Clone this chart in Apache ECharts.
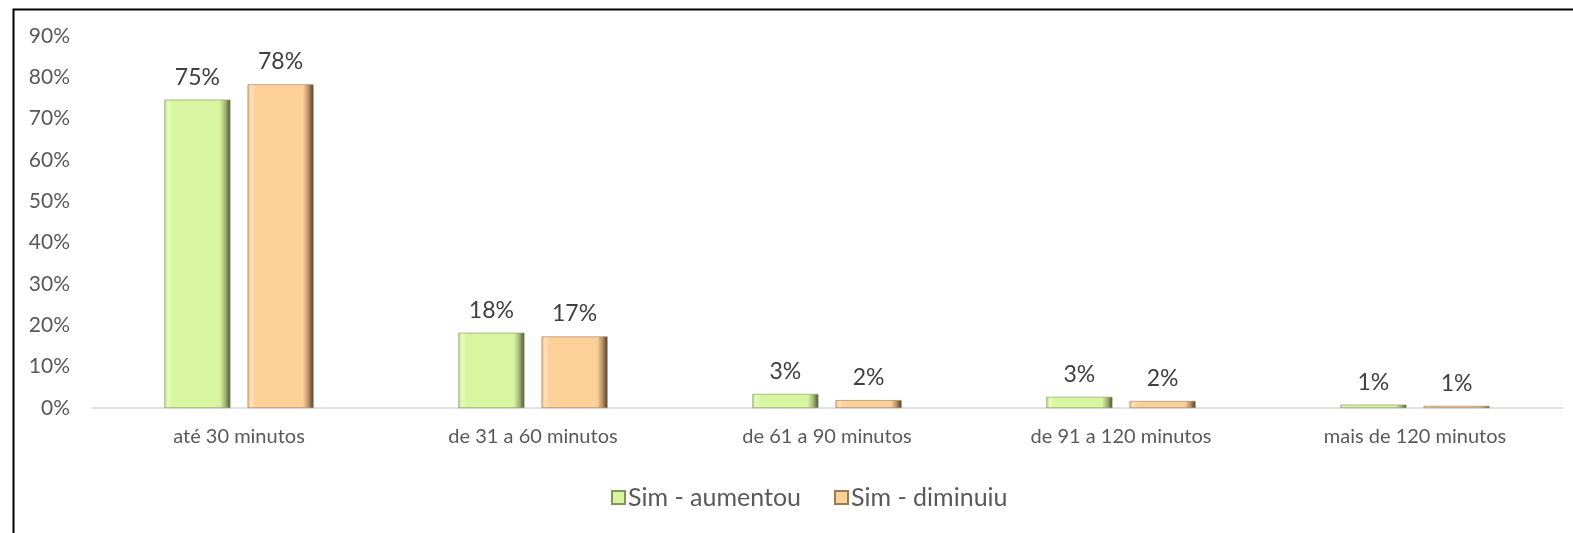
<!DOCTYPE html>
<html><head><meta charset="utf-8">
<script src="https://cdn.jsdelivr.net/npm/echarts@6/dist/echarts.min.js"></script>
<style>html,body{margin:0;padding:0;background:#fff}#c{width:1573px;height:533px}</style>
</head><body><div id="c"></div>
<script>
const categories = ['até 30 minutos', 'de 31 a 60 minutos', 'de 61 a 90 minutos', 'de 91 a 120 minutos', 'mais de 120 minutos'];
const seriesNames = ['Sim - aumentou', 'Sim - diminuiu'];
const aumentou = [74.6, 18.2, 3.4, 2.7, 0.8];
const diminuiu = [78.3, 17.3, 1.9, 1.7, 0.5];
const yTicks = [0, 10, 20, 30, 40, 50, 60, 70, 80, 90];

const FONT = 'Lato';
function grad(edge, light, main, dark, deep) {
  return { type: 'linear', x: 0, y: 0, x2: 1, y2: 0, colorStops: [
    { offset: 0, color: edge }, { offset: 0.05, color: light }, { offset: 0.12, color: main },
    { offset: 0.84, color: main }, { offset: 0.92, color: dark }, { offset: 1, color: deep } ] };
}
const chart = echarts.init(document.getElementById('c'));
chart.setOption({
  animation: false,
  textStyle: { fontFamily: FONT },
  graphic: [{ type: 'rect', left: 11, top: 7, shape: { width: 1620, height: 600 }, style: { fill: 'none', stroke: '#000', lineWidth: 2 }, silent: true }],
  grid: { left: 92, right: 11, top: 36, bottom: 125 },
  legend: {
    top: 480, left: 606, itemWidth: 13, itemHeight: 13, itemGap: 33, icon: 'rect',
    textStyle: { fontSize: 25, color: '#595959', fontFamily: FONT, padding: [0, 0, 0, -2] },
    data: seriesNames
  },
  xAxis: {
    type: 'category', data: categories,
    axisLine: { lineStyle: { color: '#d9d9d9', width: 1.5 } },
    axisTick: { show: false },
    axisLabel: { fontSize: 20, color: '#595959', margin: 19, fontFamily: FONT }
  },
  yAxis: {
    type: 'value', min: 0, max: 90, interval: 10,
    splitLine: { show: false },
    axisLine: { show: false }, axisTick: { show: false },
    axisLabel: { fontSize: 21, color: '#595959', margin: 22, fontFamily: FONT, formatter: v => v + '%' }
  },
  series: [
    { name: seriesNames[0], type: 'bar', data: aumentou, barWidth: 66, barGap: '26%',
      itemStyle: { color: grad('#b9d98c', '#e6fbba', '#d8f5a2', '#a3b877', '#4a5533'), borderColor: '#7f9658', borderWidth: 0.6 },
      label: { show: true, position: 'top', distance: 11, fontSize: 23, color: '#404040', fontFamily: FONT, formatter: p => Math.round(p.value) + '%' } },
    { name: seriesNames[1], type: 'bar', data: diminuiu, barWidth: 66,
      itemStyle: { color: grad('#e6b77e', '#ffe2bb', '#fdd09a', '#b89267', '#4e3b28'), borderColor: '#9a7a55', borderWidth: 0.6 },
      label: { show: true, position: 'top', distance: 11, fontSize: 23, color: '#404040', fontFamily: FONT, formatter: p => Math.round(p.value) + '%' } }
  ]
});
</script></body></html>
